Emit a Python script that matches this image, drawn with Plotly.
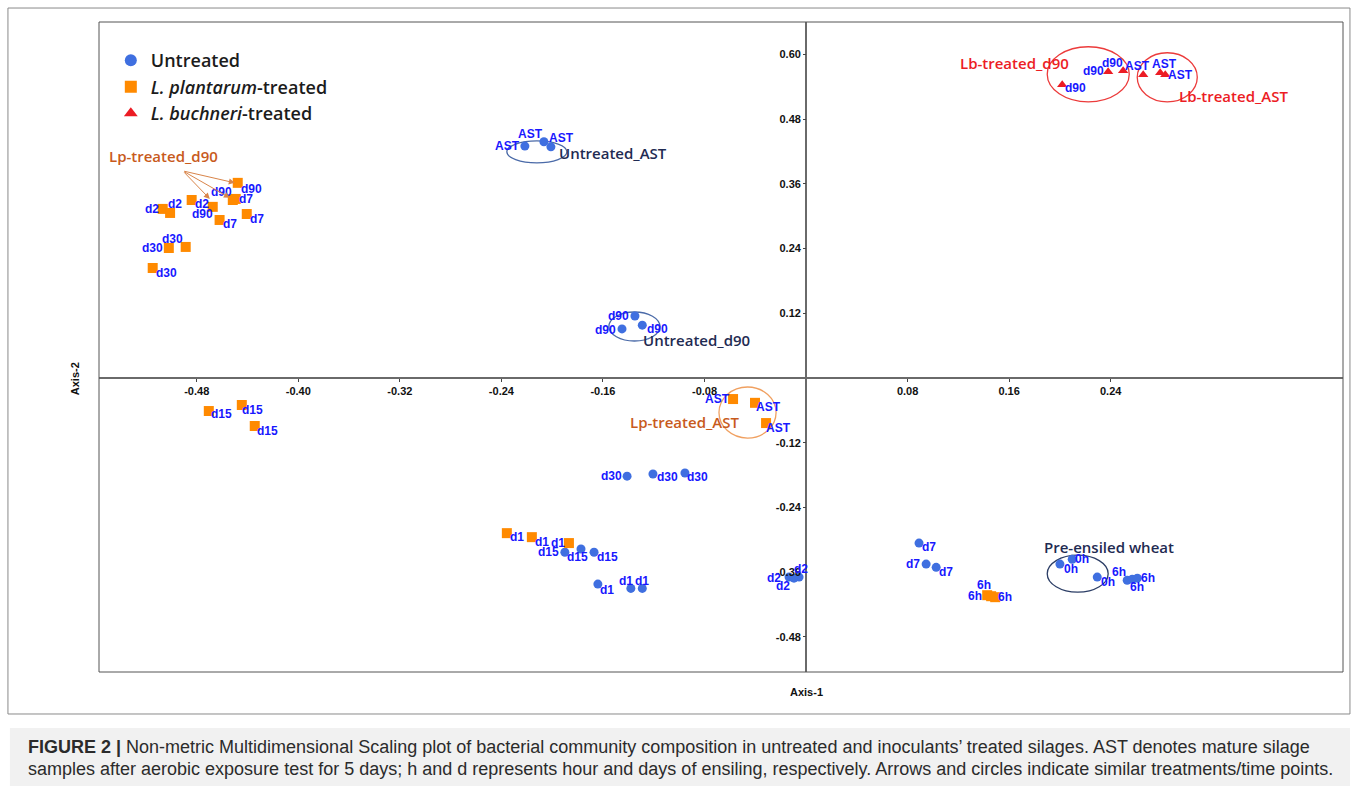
import plotly.graph_objects as go

# ---------------- data: NMDS coordinates (Axis-1, Axis-2) ----------------
untreated_x = [-0.2215, -0.2065, -0.2010,
               -0.1348, -0.1450, -0.1290,
               -0.1410, -0.1206, -0.0954,
               -0.1900, -0.1773, -0.1670,
               -0.1640, -0.1380, -0.1290,
               -0.0134, -0.0095, -0.0055,
               0.0890, 0.0946, 0.1025,
               0.2000, 0.2097, 0.2294,
               0.2530, 0.2570, 0.2610]
untreated_y = [0.4300, 0.4380, 0.4286,
               0.1150, 0.0910, 0.0980,
               -0.1820, -0.1780, -0.1760,
               -0.3230, -0.3170, -0.3230,
               -0.3820, -0.3900, -0.3900,
               -0.3690, -0.3710, -0.3690,
               -0.3060, -0.3450, -0.3510,
               -0.3450, -0.3360, -0.3690,
               -0.3750, -0.3730, -0.3710]
untreated_lbl = ["AST", "AST", "AST",
                 "d90", "d90", "d90",
                 "d30", "d30", "d30",
                 "d15", "d15", "d15",
                 "d1", "d1", "d1",
                 "d2", "d2", "d2",
                 "d7", "d7", "d7",
                 "0h", "0h", "0h",
                 "6h", "6h", "6h"]

lp_x = [-0.4477, -0.4516, -0.4674,
        -0.4493, -0.4620, -0.4406,
        -0.4840, -0.5068, -0.5010,
        -0.5020, -0.4887, -0.5147,
        -0.4705, -0.4445, -0.4343,
        -0.0575, -0.0402, -0.0315,
        -0.2357, -0.2160, -0.1868,
        0.1427, 0.1458, 0.1490]
lp_y = [0.3618, 0.3300, 0.3173,
        0.3320, 0.2930, 0.3040,
        0.3300, 0.3135, 0.3060,
        0.2410, 0.2430, 0.2040,
        -0.0612, -0.0500, -0.0890,
        -0.0390, -0.0460, -0.0835,
        -0.2876, -0.2950, -0.3060,
        -0.4026, -0.4045, -0.4063]
lp_lbl = ["d90", "d90", "d90",
          "d7", "d7", "d7",
          "d2", "d2", "d2",
          "d30", "d30", "d30",
          "d15", "d15", "d15",
          "AST", "AST", "AST",
          "d1", "d1", "d1",
          "6h", "6h", "6h"]

lb_x = [0.2380, 0.2498, 0.2018,
        0.2656, 0.2790, 0.2830]
lb_y = [0.5677, 0.5696, 0.5436,
        0.5622, 0.5660, 0.5622]
lb_lbl = ["d90", "d90", "d90",
          "AST", "AST", "AST"]

x_ticks = [-0.48, -0.40, -0.32, -0.24, -0.16, -0.08, 0.08, 0.16, 0.24]
y_ticks = [0.60, 0.48, 0.36, 0.24, 0.12, -0.12, -0.24, -0.36, -0.48]

# ---------------- sample-label offsets from each marker (px: right, down) ----------------
untreated_off = [(-17, 0), (-13, -8), (11, -9),
                 (-16, 0), (-16, 1), (15, 4),
                 (-16, 0), (15, 3), (13, 4),
                 (-16, 0), (-3, 8), (13, 5),
                 (9, 6), (-5, -7), (0, -7),
                 (-15, 1), (-11, 8), (2, -8),
                 (10, 4), (-13, 0), (10, 5),
                 (11, 5), (10, 0), (11, 5),
                 (-8, -8), (5, 8), (11, 0)]
lp_off = [(14, 6), (-11, -8), (-10, 7),
          (10, 0), (10, 4), (10, 5),
          (10, 4), (-11, 0), (5, -9),
          (-16, 0), (-13, -8), (14, 5),
          (13, 3), (11, 5), (13, 5),
          (-16, 0), (13, 4), (12, 5),
          (10, 4), (10, 5), (-11, 0),
          (-3, -10), (-16, 0), (10, 0)]
lb_off = [(-15, -1), (-11, -8), (13, 3),
          (-6, -9), (4, -9), (15, 0)]

BLUE = "#3f6fe0"
ORANGE = "#ff8a00"
RED = "#ec1c24"
LABEL_BLUE = "#1818ff"
NAVY = "#1f2b52"
BURNT = "#c85a1c"

lbl_font = dict(family="Liberation Sans, Arial, sans-serif", size=12,
                color=LABEL_BLUE, weight="bold")

fig = go.Figure()
fig.add_trace(go.Scatter(
    x=untreated_x, y=untreated_y, mode="markers", name="Untreated",
    marker=dict(symbol="circle", size=9, color=BLUE), cliponaxis=False))
fig.add_trace(go.Scatter(
    x=lp_x, y=lp_y, mode="markers", name="<i>L. plantarum</i>-treated",
    marker=dict(symbol="square", size=10, color=ORANGE), cliponaxis=False))
fig.add_trace(go.Scatter(
    x=lb_x, y=lb_y, mode="markers", name="<i>L. buchneri</i>-treated",
    marker=dict(symbol="triangle-up", size=9, color=RED), cliponaxis=False))

annotations = []
for xs, ys, labels, offs in [(untreated_x, untreated_y, untreated_lbl, untreated_off),
                             (lp_x, lp_y, lp_lbl, lp_off),
                             (lb_x, lb_y, lb_lbl, lb_off)]:
    for xv, yv, t, (dx, dy) in zip(xs, ys, labels, offs):
        annotations.append(dict(x=xv, y=yv, xref="x", yref="y", text=t,
                                showarrow=False, xshift=dx, yshift=-dy,
                                xanchor="center", yanchor="middle", font=lbl_font))

# ---------------- group outlines ----------------
ellipses = [
    (-0.2357, 0.3989, -0.1884, 0.4397, "#4a6aa8"),   # untreated AST
    (-0.1553, 0.0686, -0.1151, 0.1224, "#4a6aa8"),   # untreated d90
    (0.1900, -0.3970, 0.2380, -0.3284, "#2c3e66"),   # pre-ensiled
    (-0.0686, -0.1113, -0.0236, -0.0167, "#f0a060"), # Lp AST
    (0.1900, 0.5120, 0.2546, 0.6141, "#ec3b3b"),     # Lb d90
    (0.2609, 0.5120, 0.3082, 0.6030, "#ec3b3b"),     # Lb AST
]
shapes = []
for x0, y0, x1, y1, col in ellipses:
    shapes.append(dict(type="circle", xref="x", yref="y", x0=x0, y0=y0,
                       x1=x1, y1=y1, line=dict(color=col, width=1.3),
                       layer="below"))

# plot frame, outer figure border, caption panel
shapes.append(dict(type="rect", xref="paper", yref="paper", x0=0, y0=0, x1=1, y1=1,
                   line=dict(color="#555555", width=1)))
shapes.append(dict(type="rect", xref="paper", yref="paper",
                   x0=-0.0732, y0=-0.0646, x1=1.0056, y1=1.0215,
                   line=dict(color="#8a8a8a", width=1)))
shapes.append(dict(type="rect", xref="paper", yref="paper",
                   x0=-0.0716, y0=-0.1754, x1=1.0056, y1=-0.0862,
                   fillcolor="#f1f1f1", line=dict(width=0), layer="below"))

grp_font = dict(family="Open Sans, sans-serif", size=15, weight=600)
groups = [
    (-0.1963, 0.4174, "Untreated_AST", NAVY),
    (-0.1300, 0.0705, "Untreated_d90", NAVY),
    (0.1860, -0.3135, "Pre-ensiled wheat", NAVY),
    (-0.1403, -0.0816, "Lp-treated_AST", BURNT),
    (-0.5509, 0.4119, "Lp-treated_d90", BURNT),
    (0.1198, 0.5844, "Lb-treated_d90", RED),
    (0.2924, 0.5232, "Lb-treated_AST", RED),
]
for gx, gy, gt, gc in groups:
    annotations.append(dict(x=gx, y=gy, xref="x", yref="y", text=gt,
                            xanchor="left", yanchor="middle", showarrow=False,
                            font=dict(grp_font, color=gc)))

# arrows from the Lp-treated_d90 label to its samples
arrow_tail = (-0.4910, 0.3840)
arrow_heads = [(-0.4500, 0.3618), (-0.4539, 0.3340), (-0.4697, 0.3320)]
for hx, hy in arrow_heads:
    annotations.append(dict(x=hx, y=hy, ax=arrow_tail[0], ay=arrow_tail[1],
                            xref="x", yref="y", axref="x", ayref="y", text="",
                            showarrow=True, arrowhead=2, arrowsize=1.2,
                            arrowwidth=1, arrowcolor="#d9854a"))

axis_font = dict(family="Liberation Sans, Arial, sans-serif", size=11,
                 color="#111111", weight="bold")
annotations.append(dict(x=0.5684, y=-0.031, xref="paper", yref="paper",
                        text="Axis-1", showarrow=False, font=axis_font,
                        xanchor="center", yanchor="middle"))
annotations.append(dict(x=-0.0193, y=0.452, xref="paper", yref="paper",
                        text="Axis-2", showarrow=False, font=axis_font,
                        textangle=-90, xanchor="center", yanchor="middle"))

cap_font = dict(family="Liberation Sans, Arial, sans-serif", size=18, color="#2b2b2b")
annotations.append(dict(
    x=-0.0587, y=-0.1160, xref="paper", yref="paper", xanchor="left", yanchor="middle",
    showarrow=False, font=cap_font,
    text="<b>FIGURE 2 |</b> Non-metric Multidimensional Scaling plot of bacterial community "
         "composition in untreated and inoculants\u2019 treated silages. AST denotes mature silage"))
annotations.append(dict(
    x=-0.0587, y=-0.1498, xref="paper", yref="paper", xanchor="left", yanchor="middle",
    showarrow=False, font=cap_font,
    text="samples after aerobic exposure test for 5 days; h and d represents hour and days "
         "of ensiling, respectively. Arrows and circles indicate similar treatments/time points."))

tick_font = dict(family="Liberation Sans, Arial, sans-serif", size=11,
                 color="#111111", weight="bold")
fig.update_layout(
    width=1358, height=791,
    margin=dict(l=99, r=15, t=22, b=119),
    paper_bgcolor="white", plot_bgcolor="white",
    showlegend=True,
    legend=dict(x=0.0095, y=0.969, xanchor="left", yanchor="top",
                bgcolor="rgba(0,0,0,0)", itemsizing="constant",
                font=dict(family="Open Sans, sans-serif", size=18, color="#1c1c1c",
                          weight=600),
                tracegroupgap=0),
    xaxis=dict(range=[-0.557, 0.423], showgrid=False, zeroline=True,
               zerolinecolor="#6a6a6a", zerolinewidth=1.5,
               anchor="free", position=0.4523, showline=False,
               tickvals=x_ticks, ticktext=[f"{v:.2f}" for v in x_ticks],
               ticks="outside", ticklen=3, tickcolor="#444444",
               tickfont=tick_font),
    yaxis=dict(range=[-0.545, 0.660], showgrid=False, zeroline=True,
               zerolinecolor="#6a6a6a", zerolinewidth=1.5,
               anchor="free", position=0.5684, showline=False,
               tickvals=y_ticks, ticktext=[f"{v:.2f}" for v in y_ticks],
               ticks="outside", ticklen=3, tickcolor="#444444",
               tickfont=tick_font),
    shapes=shapes,
    annotations=annotations,
)

fig.write_html("out.html")
